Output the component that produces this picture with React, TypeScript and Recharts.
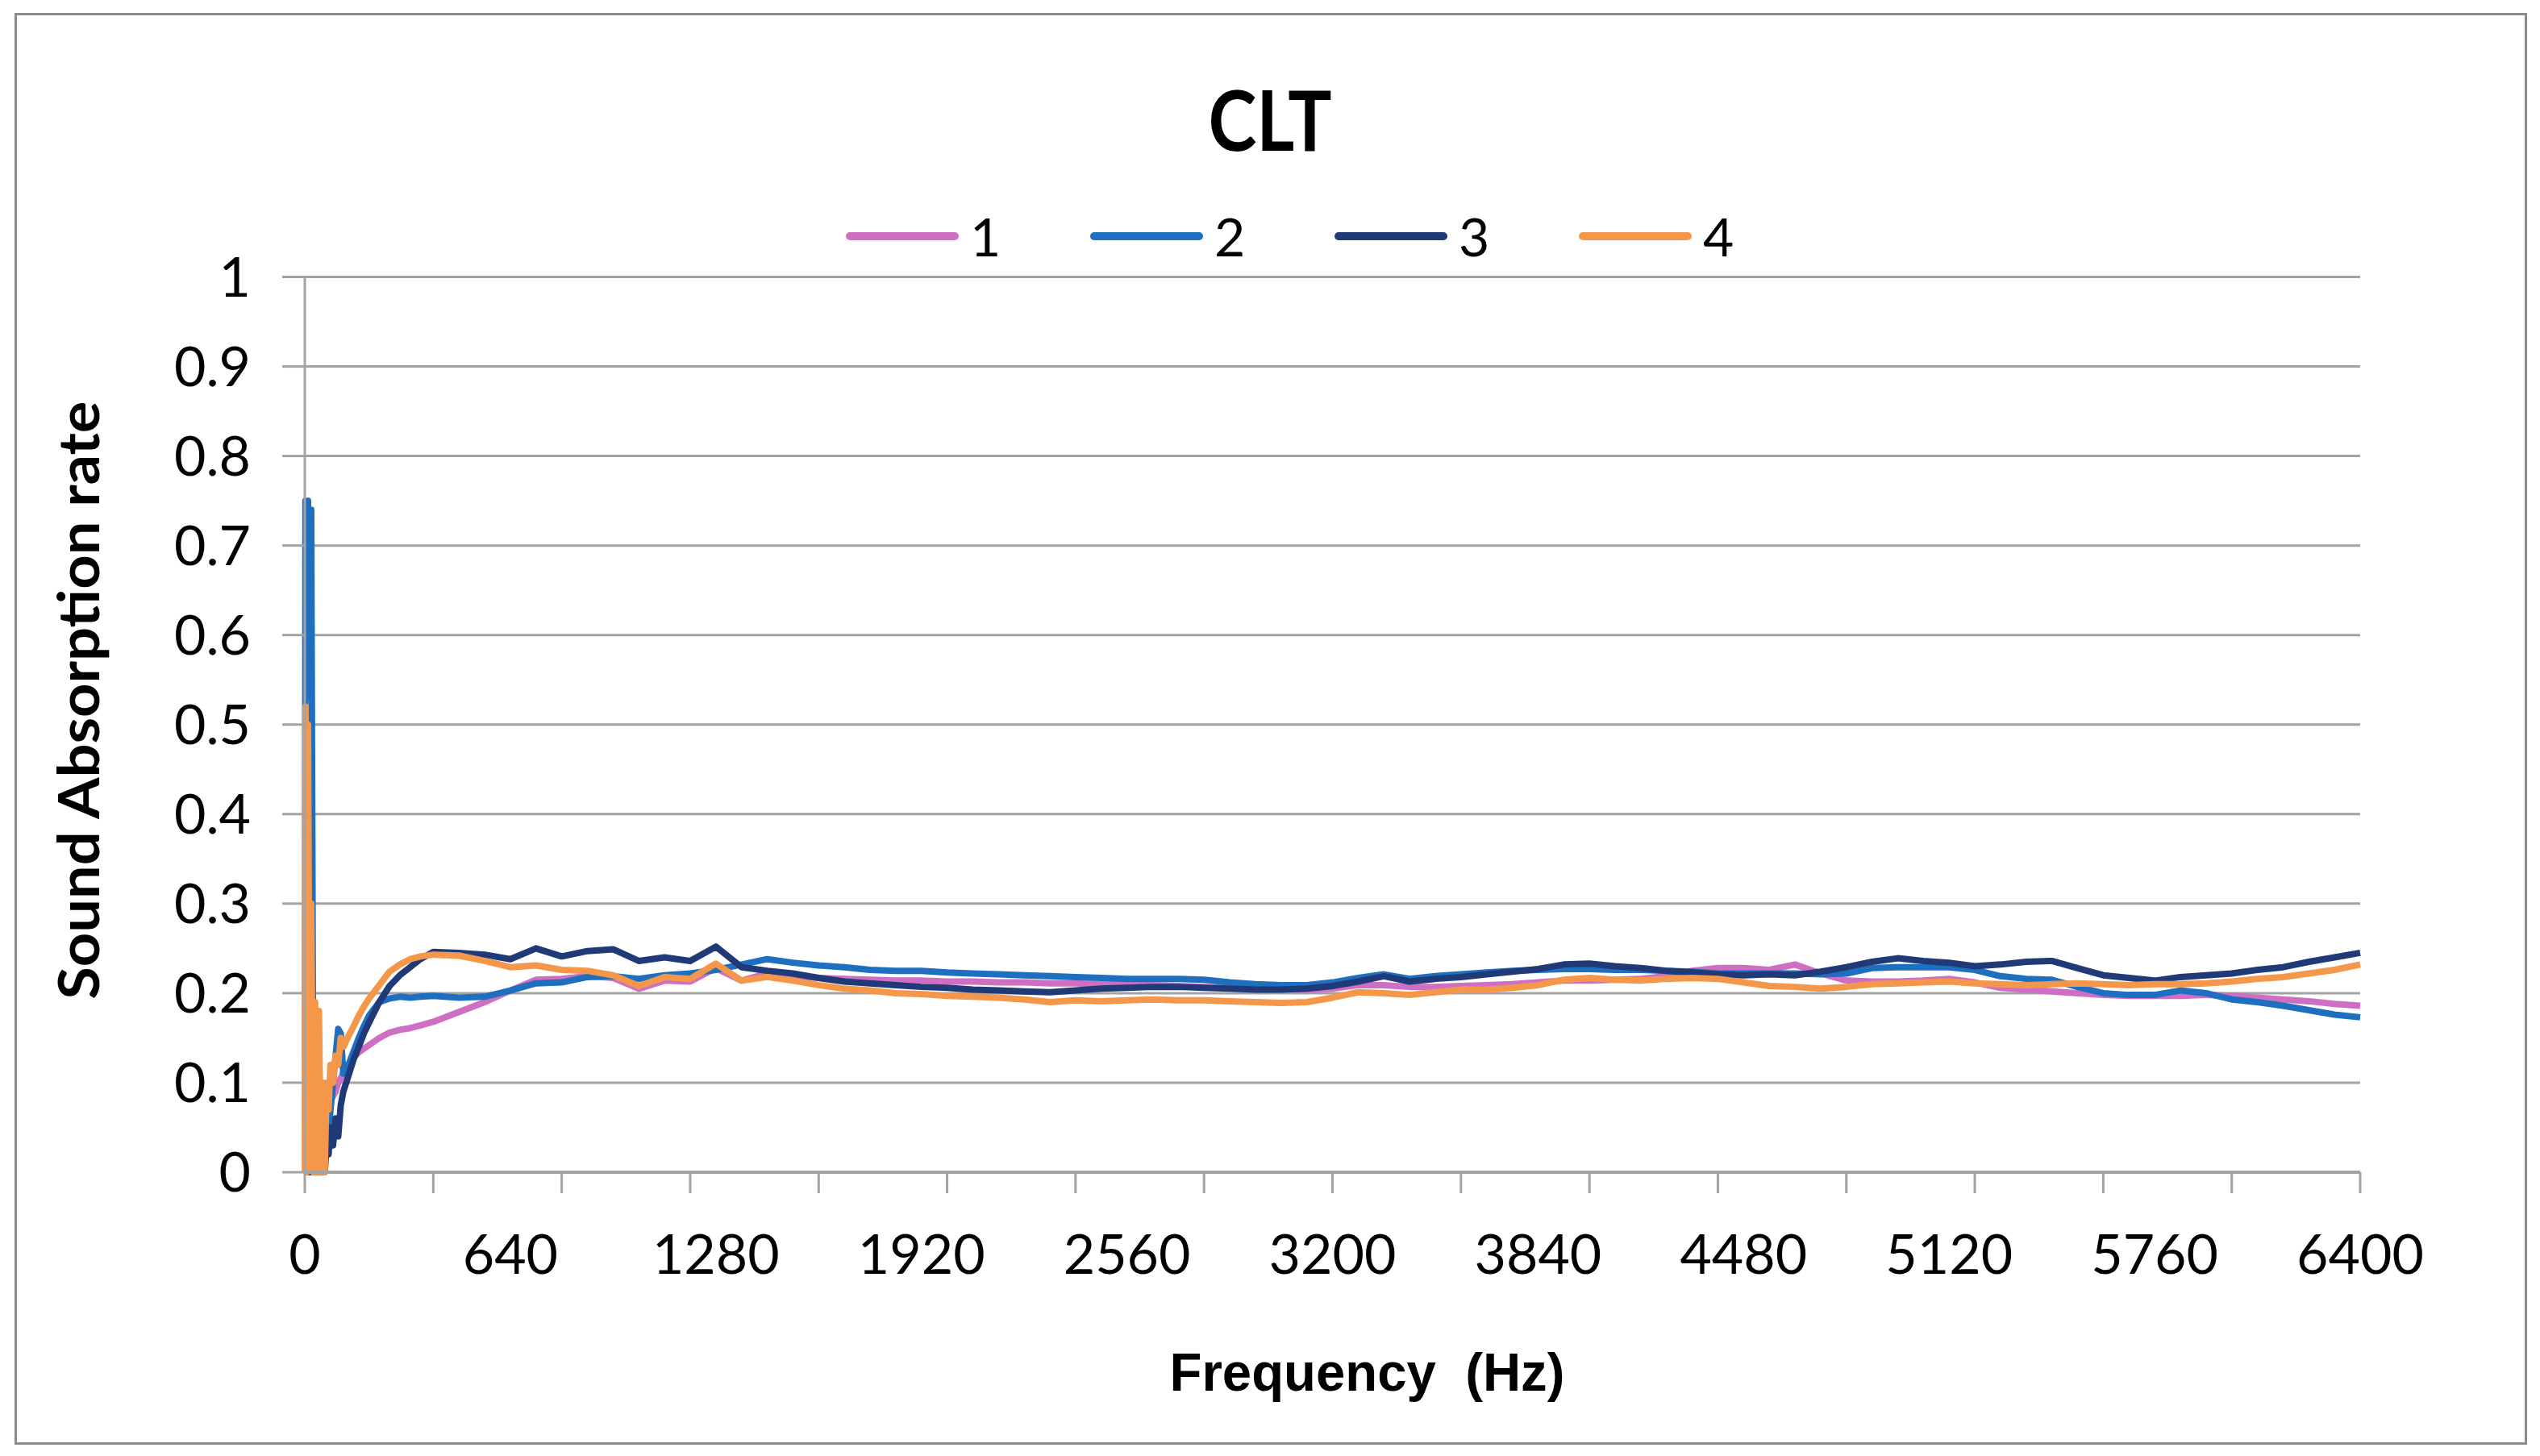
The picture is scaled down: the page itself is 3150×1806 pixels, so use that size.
import React from 'react';
import { LineChart, Line, XAxis, YAxis, CartesianGrid, Legend } from 'recharts';

// frequency (Hz): dense at the low end where the curves jump around
const FREQUENCY = [
  0, 2, 6, 10, 16, 20, 26, 32, 38, 44, 50, 56, 62, 68, 74, 80, 88, 96, 104, 112,
  120, 136, 152, 168, 184, 200, 232, 264, 296, 328, 360,
  400, 480, 560, 640, 720, 800, 880, 960, 1040, 1120,
  1200, 1280, 1360, 1440, 1520, 1600, 1680, 1760, 1840, 1920,
  2000, 2080, 2160, 2240, 2320, 2400, 2480, 2560, 2640, 2720,
  2800, 2880, 2960, 3040, 3120, 3200, 3280, 3360, 3440, 3520,
  3600, 3680, 3760, 3840, 3920, 4000, 4080, 4160, 4240, 4320,
  4400, 4480, 4560, 4640, 4720, 4800, 4880, 4960, 5040, 5120,
  5200, 5280, 5360, 5440, 5520, 5600, 5680, 5760, 5840, 5920,
  6000, 6080, 6160, 6240, 6320, 6400,
];

const SERIES_1 = [
  0, 0, 0, 0.03, 0.0, 0.02, 0.0, 0.03, 0.0, 0.04, 0.02, 0.05, 0.04, 0.06, 0.07, 0.08, 0.085, 0.09, 0.1, 0.105,
  0.112, 0.12, 0.128, 0.134, 0.138, 0.142, 0.15, 0.156, 0.159, 0.161, 0.164,
  0.168, 0.179, 0.19, 0.203, 0.215, 0.216, 0.219, 0.217, 0.205, 0.214,
  0.213, 0.228, 0.214, 0.222, 0.219, 0.217, 0.216, 0.215, 0.214, 0.214,
  0.213, 0.213, 0.212, 0.212, 0.211, 0.211, 0.21, 0.21, 0.209, 0.208,
  0.207, 0.206, 0.205, 0.205, 0.204, 0.205, 0.209, 0.209, 0.207, 0.207,
  0.208, 0.209, 0.21, 0.212, 0.214, 0.214, 0.215, 0.216, 0.219, 0.225,
  0.228, 0.228, 0.226, 0.232, 0.222, 0.214, 0.213, 0.213, 0.214, 0.216,
  0.212, 0.206, 0.204, 0.202, 0.2, 0.198, 0.197, 0.197, 0.197, 0.198,
  0.197, 0.195, 0.193, 0.191, 0.188, 0.186,
];

const SERIES_2 = [
  0, 0.75, 0.55, 0.75, 0.53, 0.74, 0.1, 0.0, 0.03, 0.0, 0.02, 0.0, 0.03, 0.05, 0.04, 0.07, 0.1, 0.13, 0.16, 0.155,
  0.11, 0.12, 0.135, 0.15, 0.163, 0.175, 0.19, 0.194, 0.196, 0.195, 0.196,
  0.197, 0.195, 0.196, 0.203, 0.211, 0.212, 0.218, 0.219, 0.216, 0.22,
  0.222, 0.226, 0.232, 0.238, 0.234, 0.231, 0.229, 0.226, 0.225, 0.225,
  0.223, 0.222, 0.221, 0.22, 0.219, 0.218, 0.217, 0.216, 0.216, 0.216,
  0.215, 0.212, 0.21, 0.209, 0.209, 0.212, 0.217, 0.221, 0.216, 0.219,
  0.221, 0.223, 0.225, 0.226, 0.227, 0.227, 0.226, 0.226, 0.225, 0.224,
  0.222, 0.222, 0.222, 0.222, 0.221, 0.222, 0.228, 0.229, 0.229, 0.229,
  0.226, 0.219, 0.216, 0.215, 0.207, 0.2, 0.198, 0.198, 0.203, 0.2,
  0.193, 0.19, 0.186, 0.181, 0.176, 0.173,
];

const SERIES_3 = [
  0, 0, 0, 0.04, 0.0, 0.03, 0.0, 0.04, 0.0, 0.03, 0.0, 0.02, 0.0, 0.03, 0.02, 0.05, 0.03, 0.06, 0.04, 0.075,
  0.09, 0.108, 0.126, 0.14, 0.155, 0.167, 0.19, 0.208, 0.22, 0.229, 0.238,
  0.246, 0.245, 0.243, 0.238, 0.25, 0.241, 0.247, 0.249, 0.236, 0.24,
  0.236, 0.252, 0.229, 0.225, 0.222, 0.217, 0.213, 0.211, 0.209, 0.207,
  0.206, 0.204, 0.203, 0.202, 0.201, 0.203, 0.205, 0.206, 0.207, 0.207,
  0.206, 0.205, 0.204, 0.204, 0.205, 0.208, 0.213, 0.219, 0.213, 0.216,
  0.218, 0.221, 0.224, 0.227, 0.232, 0.233, 0.23, 0.228, 0.225, 0.223,
  0.221, 0.22, 0.221, 0.22, 0.224, 0.229, 0.235, 0.239, 0.236, 0.234,
  0.23, 0.232, 0.235, 0.236, 0.228, 0.22, 0.217, 0.214, 0.218, 0.22,
  0.222, 0.226, 0.229, 0.235, 0.24, 0.245,
];

const SERIES_4 = [
  0, 0.52, 0.0, 0.5, 0.02, 0.3, 0.0, 0.19, 0.0, 0.18, 0.0, 0.1, 0.0, 0.1, 0.07, 0.12, 0.1, 0.13, 0.12, 0.15,
  0.14, 0.152, 0.163, 0.175, 0.185, 0.194, 0.209, 0.224, 0.232, 0.238, 0.241,
  0.243, 0.242, 0.236, 0.229, 0.231, 0.226, 0.225, 0.22, 0.208, 0.218,
  0.216, 0.233, 0.214, 0.218, 0.214, 0.209, 0.205, 0.203, 0.2, 0.199,
  0.197, 0.196, 0.195, 0.193, 0.19, 0.192, 0.191, 0.192, 0.193, 0.192,
  0.192, 0.191, 0.19, 0.189, 0.19, 0.195, 0.201, 0.2, 0.198, 0.201,
  0.204, 0.204, 0.206, 0.209, 0.215, 0.217, 0.215, 0.214, 0.216, 0.217,
  0.216, 0.212, 0.208, 0.207, 0.205, 0.207, 0.21, 0.211, 0.212, 0.213,
  0.211, 0.21, 0.209, 0.21, 0.211, 0.21, 0.209, 0.21, 0.21, 0.211,
  0.213, 0.216, 0.218, 0.222, 0.226, 0.232,
];

const SERIES = [
  { key: 's1', name: '1', color: '#CF6FC4', values: SERIES_1 },
  { key: 's2', name: '2', color: '#1F6FC0', values: SERIES_2 },
  { key: 's3', name: '3', color: '#203A78', values: SERIES_3 },
  { key: 's4', name: '4', color: '#F4974A', values: SERIES_4 },
];

const Y_TICKS = [0, 0.1, 0.2, 0.3, 0.4, 0.5, 0.6, 0.7, 0.8, 0.9, 1];
const X_LABEL_TICKS = [0, 640, 1280, 1920, 2560, 3200, 3840, 4480, 5120, 5760, 6400];
const X_MARK_TICKS = [0, 400, 800, 1200, 1600, 2000, 2400, 2800, 3200, 3600, 4000, 4400, 4800, 5200, 5600, 6000, 6400];
const X_TICKS = Array.from(new Set([...X_LABEL_TICKS, ...X_MARK_TICKS])).sort((a, b) => a - b);

const data = FREQUENCY.map((f, i) => {
  const row: Record<string, number> = { f };
  SERIES.forEach((s) => {
    row[s.key] = s.values[i];
  });
  return row;
});

const GRID = '#a3a3a3';
const W = 3134;
const H = 1790;

const XTick = (props: any) => {
  const { x, y, payload } = props;
  const v = payload.value;
  return (
    <g>
      {X_MARK_TICKS.includes(v) && (
        <line x1={x} x2={x} y1={y} y2={y + 26} stroke={GRID} strokeWidth={3} />
      )}
      {X_LABEL_TICKS.includes(v) && (
        <text
          x={x}
          y={y + 99}
          textAnchor="middle"
          dominantBaseline="central"
          fontFamily="Lato"
          fontSize={68}
          fill="#000"
        >
          {v}
        </text>
      )}
    </g>
  );
};

const renderLegend = () => (
  <div style={{ display: 'flex', alignItems: 'center', height: 70 }}>
    {SERIES.map((s) => (
      <div key={s.key} style={{ display: 'flex', alignItems: 'center', width: 303 }}>
        <div style={{ width: 140, height: 10, background: s.color, borderRadius: 5 }} />
        <span style={{ marginLeft: 14, fontFamily: 'Lato', fontSize: 66, lineHeight: 1, color: '#000' }}>
          {s.name}
        </span>
      </div>
    ))}
  </div>
);

export default function App() {
  return (
    <div style={{ position: 'relative', width: W, height: H, background: '#fff' }}>
      <div
        style={{
          position: 'absolute',
          left: 10,
          top: 8,
          width: 3116,
          height: 1776,
          boxSizing: 'border-box',
          border: '3px solid #8c8c8c',
        }}
      />
      <svg style={{ position: 'absolute', left: 0, top: 0 }} width={W} height={260}>
        <text
          x={1567}
          y={138}
          textAnchor="middle"
          dominantBaseline="central"
          fontFamily="Lato"
          fontWeight={700}
          fontSize={104}
          textLength={153}
          lengthAdjust="spacingAndGlyphs"
          fill="#000"
        >
          CLT
        </text>
      </svg>
      <div style={{ position: 'absolute', left: 0, top: 0 }}>
        <LineChart
          width={W}
          height={H}
          data={data}
          margin={{ top: 335.5, right: 215, bottom: 94, left: 70 }}
        >
          <CartesianGrid horizontal vertical={false} stroke={GRID} strokeWidth={3} />
          <XAxis
            dataKey="f"
            type="number"
            domain={[0, 6400]}
            ticks={X_TICKS}
            interval={0}
            height={250}
            tickSize={0}
            tickMargin={0}
            tickLine={false}
            tick={<XTick />}
            axisLine={{ stroke: GRID, strokeWidth: 4 }}
            label={(p: any) => {
              const vb = p.viewBox;
              return (
                <text
                  x={vb.x + vb.width / 2 + 43}
                  y={vb.y + 248}
                  textAnchor="middle"
                  dominantBaseline="central"
                  fontFamily="Liberation Sans"
                  fontWeight={700}
                  fontSize={66}
                  textLength={490}
                  lengthAdjust="spacingAndGlyphs"
                  fill="#000"
                >
                  {'Frequency\u00a0\u00a0(Hz)'}
                </text>
              );
            }}
          />
          <YAxis
            type="number"
            domain={[0, 1]}
            ticks={Y_TICKS}
            interval={0}
            width={300}
            tickSize={28}
            tickMargin={39}
            tickLine={{ stroke: GRID, strokeWidth: 3 }}
            axisLine={{ stroke: GRID, strokeWidth: 3 }}
            tick={{ fontFamily: 'Lato', fontSize: 68, fill: '#000' }}
            label={(p: any) => {
              const vb = p.viewBox;
              const cx = vb.x + 18;
              const cy = vb.y + vb.height / 2 - 30;
              return (
                <text
                  x={cx}
                  y={cy}
                  transform={`rotate(-90 ${cx} ${cy})`}
                  textAnchor="middle"
                  dominantBaseline="central"
                  fontFamily="Lato"
                  fontWeight={700}
                  fontSize={70}
                  textLength={742}
                  lengthAdjust="spacingAndGlyphs"
                  fill="#000"
                >
                  Sound Absorption rate
                </text>
              );
            }}
          />
          <Legend
            layout="horizontal"
            verticalAlign="middle"
            align="center"
            content={renderLegend}
            wrapperStyle={{ position: 'absolute', left: 1041, top: 250, width: 1300, height: 70 }}
          />
          {SERIES.map((s) => (
            <Line
              key={s.key}
              dataKey={s.key}
              name={s.name}
              type="linear"
              stroke={s.color}
              strokeWidth={8}
              strokeLinejoin="round"
              dot={false}
              activeDot={false}
              isAnimationActive={false}
            />
          ))}
        </LineChart>
      </div>
    </div>
  );
}
